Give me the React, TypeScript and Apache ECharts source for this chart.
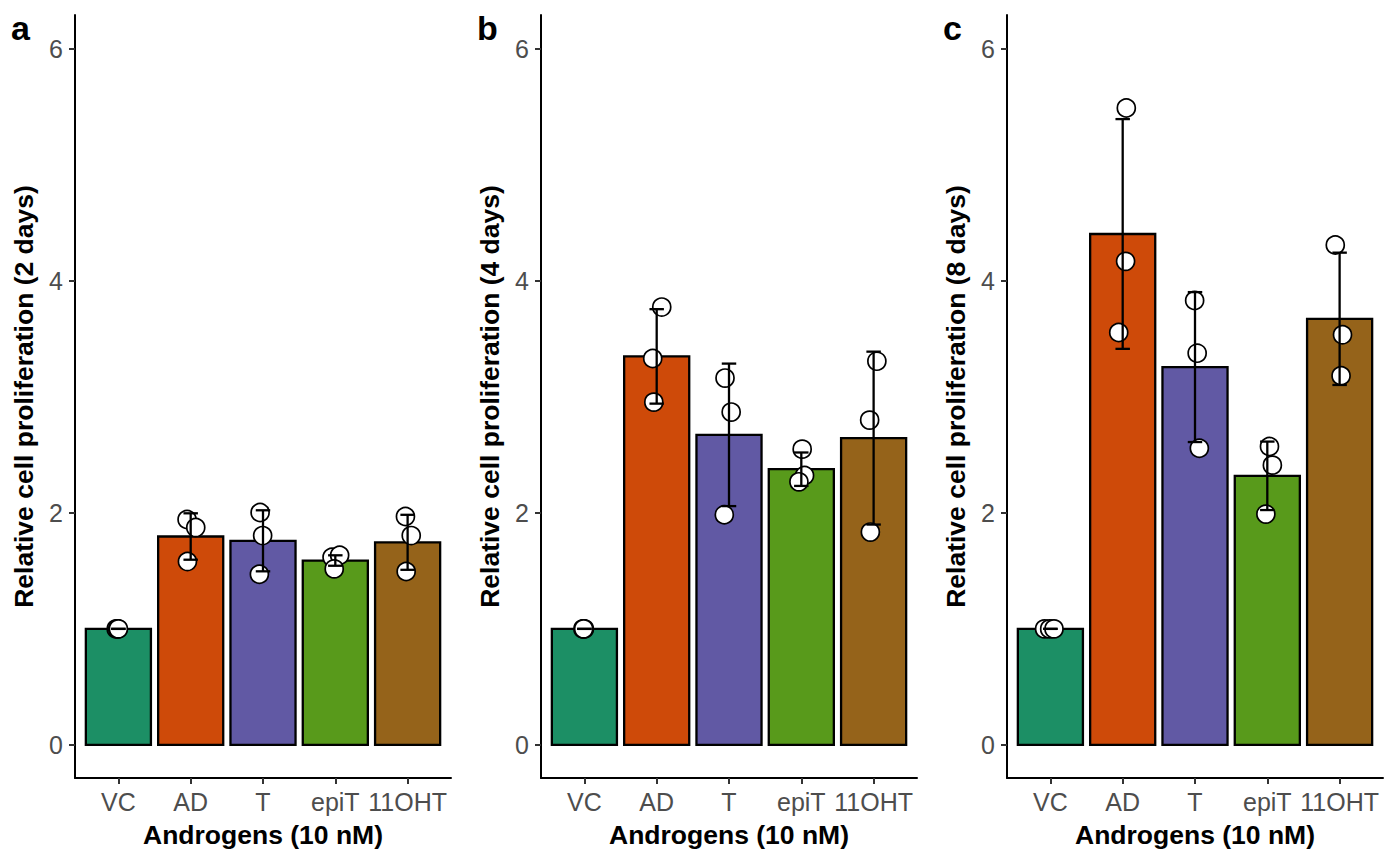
import React, { useEffect, useRef } from "react";
import * as echarts from "echarts";

const categories = ["VC", "AD", "T", "epiT", "11OHT"];
const barColors = ["#1C8F65", "#CE4A09", "#6159A4", "#589A1B", "#95631A"];
const panelLetters = ["a", "b", "c"];
const yTitles = [
  "Relative cell proliferation (2 days)",
  "Relative cell proliferation (4 days)",
  "Relative cell proliferation (8 days)",
];
const xTitle = "Androgens (10 nM)";
const yTicks = [0, 2, 4, 6];
const xTicks = [0, 1, 2, 3, 4];

// Day 2
const means2d = [1.0, 1.796, 1.759, 1.589, 1.746];
const sd2d = [0, 0.2, 0.263, 0.045, 0.237];
const points2d = [
  [1.0, 1.0, 1.0],
  [1.943, 1.873, 1.58],
  [2.003, 1.804, 1.471],
  [1.617, 1.634, 1.517],
  [1.968, 1.804, 1.494],
];
const jitter2d = [
  [-0.03, -0.01, 0.0],
  [-0.05, 0.07, -0.045],
  [-0.04, -0.005, -0.05],
  [-0.045, 0.06, -0.015],
  [-0.03, 0.05, -0.02],
];

// Day 4
const means4d = [1.0, 3.348, 2.672, 2.376, 2.644];
const sd4d = [0, 0.407, 0.614, 0.144, 0.745];
const points4d = [
  [1.0, 1.0, 1.0],
  [3.773, 3.33, 2.954],
  [3.161, 2.868, 1.983],
  [2.549, 2.322, 2.267],
  [3.307, 2.799, 1.834],
];
const jitter4d = [
  [-0.02, 0.0, -0.01],
  [0.07, -0.055, -0.04],
  [-0.055, 0.03, -0.065],
  [0.012, 0.045, -0.033],
  [0.045, -0.055, -0.045],
];

// Day 8
const means8d = [1.0, 4.403, 3.256, 2.319, 3.672];
const sd8d = [0, 0.99, 0.646, 0.295, 0.57];
const points8d = [
  [1.0, 1.0, 1.0],
  [5.489, 4.167, 3.554],
  [3.83, 3.376, 2.557],
  [2.572, 2.411, 1.989],
  [4.308, 3.534, 3.181],
];
const jitter8d = [
  [-0.08, -0.01, 0.05],
  [0.05, 0.04, -0.055],
  [-0.005, 0.03, 0.06],
  [0.03, 0.07, -0.02],
  [-0.06, 0.04, 0.02],
];

const panels = [
  { means: means2d, sd: sd2d, points: points2d, jitter: jitter2d },
  { means: means4d, sd: sd4d, points: points4d, jitter: jitter4d },
  { means: means8d, sd: sd8d, points: points8d, jitter: jitter8d },
];

const FONT = '"Liberation Sans", Arial, Helvetica, sans-serif';
const PANEL_STEP = 466;
const GRID_LEFT = 75;
const GRID_TOP = 15;
const GRID_W = 376;
const GRID_H = 763;

export default function App() {
  const ref = useRef<HTMLDivElement>(null);

  useEffect(() => {
    if (!ref.current) return;
    const chart = echarts.init(ref.current, undefined, { renderer: "svg" });

    const grid: any[] = [];
    const xAxis: any[] = [];
    const yAxis: any[] = [];
    const series: any[] = [];
    const graphic: any[] = [];

    panels.forEach((p, i) => {
      const left = GRID_LEFT + PANEL_STEP * i;
      grid.push({ left, top: GRID_TOP, width: GRID_W, height: GRID_H, containLabel: false });
      xAxis.push({
        type: "value",
        gridIndex: i,
        min: -0.6,
        max: 4.6,
        axisLine: { show: true, onZero: false, lineStyle: { color: "#000", width: 2 } },
        axisTick: { show: true, customValues: xTicks, length: 6, lineStyle: { color: "#333", width: 2 } },
        axisLabel: {
          show: true,
          customValues: xTicks,
          formatter: (v: number) => categories[Math.round(v)] ?? "",
          fontSize: 25,
          fontFamily: FONT,
          color: "#4D4D4D",
          margin: 11,
        },
        splitLine: { show: false },
      });
      yAxis.push({
        type: "value",
        gridIndex: i,
        min: -0.285,
        max: 6.29,
        axisLine: { show: true, onZero: false, lineStyle: { color: "#000", width: 2 } },
        axisTick: { show: true, customValues: yTicks, length: 6, lineStyle: { color: "#333", width: 2 } },
        axisLabel: {
          show: true,
          customValues: yTicks,
          fontSize: 25,
          fontFamily: FONT,
          color: "#4D4D4D",
          margin: 12,
        },
        splitLine: { show: false },
      });

      // Bars
      series.push({
        type: "custom",
        xAxisIndex: i,
        yAxisIndex: i,
        z: 1,
        data: p.means.map((m, k) => [k, m]),
        renderItem: (params: any, api: any) => {
          const x = api.value(0);
          const y = api.value(1);
          const a = api.coord([x - 0.45, y]);
          const b = api.coord([x + 0.45, 0]);
          return {
            type: "rect",
            shape: { x: a[0], y: a[1], width: b[0] - a[0], height: b[1] - a[1] },
            style: { fill: barColors[params.dataIndex], stroke: "#000", lineWidth: 2.3 },
          };
        },
      });

      // Points
      const pts: number[][] = [];
      p.points.forEach((arr, k) => {
        arr.forEach((v, j) => pts.push([k + p.jitter[k][j], v]));
      });
      series.push({
        type: "scatter",
        xAxisIndex: i,
        yAxisIndex: i,
        z: 2,
        symbol: "circle",
        symbolSize: 18,
        itemStyle: { color: "#fff", borderColor: "#000", borderWidth: 1.7, opacity: 1 },
        emphasis: { disabled: true },
        data: pts,
      });

      // Error bars
      series.push({
        type: "custom",
        xAxisIndex: i,
        yAxisIndex: i,
        z: 3,
        data: p.means.map((m, k) => [k, m - p.sd[k], m + p.sd[k]]),
        encode: { x: 0, y: [1, 2] },
        renderItem: (params: any, api: any) => {
          const x = api.value(0);
          const lo = api.coord([x, api.value(1)]);
          const hi = api.coord([x, api.value(2)]);
          const l = api.coord([x - 0.1, api.value(1)]);
          const r = api.coord([x + 0.1, api.value(1)]);
          const half = (r[0] - l[0]) / 2;
          const st = { stroke: "#000", lineWidth: 2.3 };
          return {
            type: "group",
            children: [
              { type: "line", shape: { x1: lo[0], y1: lo[1], x2: hi[0], y2: hi[1] }, style: st },
              { type: "line", shape: { x1: hi[0] - half, y1: hi[1], x2: hi[0] + half, y2: hi[1] }, style: st },
              { type: "line", shape: { x1: lo[0] - half, y1: lo[1], x2: lo[0] + half, y2: lo[1] }, style: st },
            ],
          };
        },
      });

      // Texts
      graphic.push({
        type: "text",
        x: left - 51,
        y: GRID_TOP + GRID_H / 2,
        rotation: Math.PI / 2,
        style: {
          text: yTitles[i],
          fontSize: 26.5,
          fontWeight: "bold",
          fontFamily: FONT,
          fill: "#000",
          align: "center",
          verticalAlign: "middle",
        },
      });
      graphic.push({
        type: "text",
        x: left + GRID_W / 2,
        y: 835,
        style: {
          text: xTitle,
          fontSize: 26.5,
          fontWeight: "bold",
          fontFamily: FONT,
          fill: "#000",
          align: "center",
          verticalAlign: "middle",
        },
      });
      graphic.push({
        type: "text",
        x: 11 + PANEL_STEP * i,
        y: 28,
        style: {
          text: panelLetters[i],
          fontSize: 34,
          fontWeight: "bold",
          fontFamily: FONT,
          fill: "#000",
          align: "left",
          verticalAlign: "middle",
        },
      });
    });

    chart.setOption({
      animation: false,
      backgroundColor: "#fff",
      grid,
      xAxis,
      yAxis,
      series,
      graphic,
    });

    return () => chart.dispose();
  }, []);

  return (
    <div
      ref={ref}
      style={{ position: "absolute", left: 0, top: 0, width: 1400, height: 865 }}
    />
  );
}
